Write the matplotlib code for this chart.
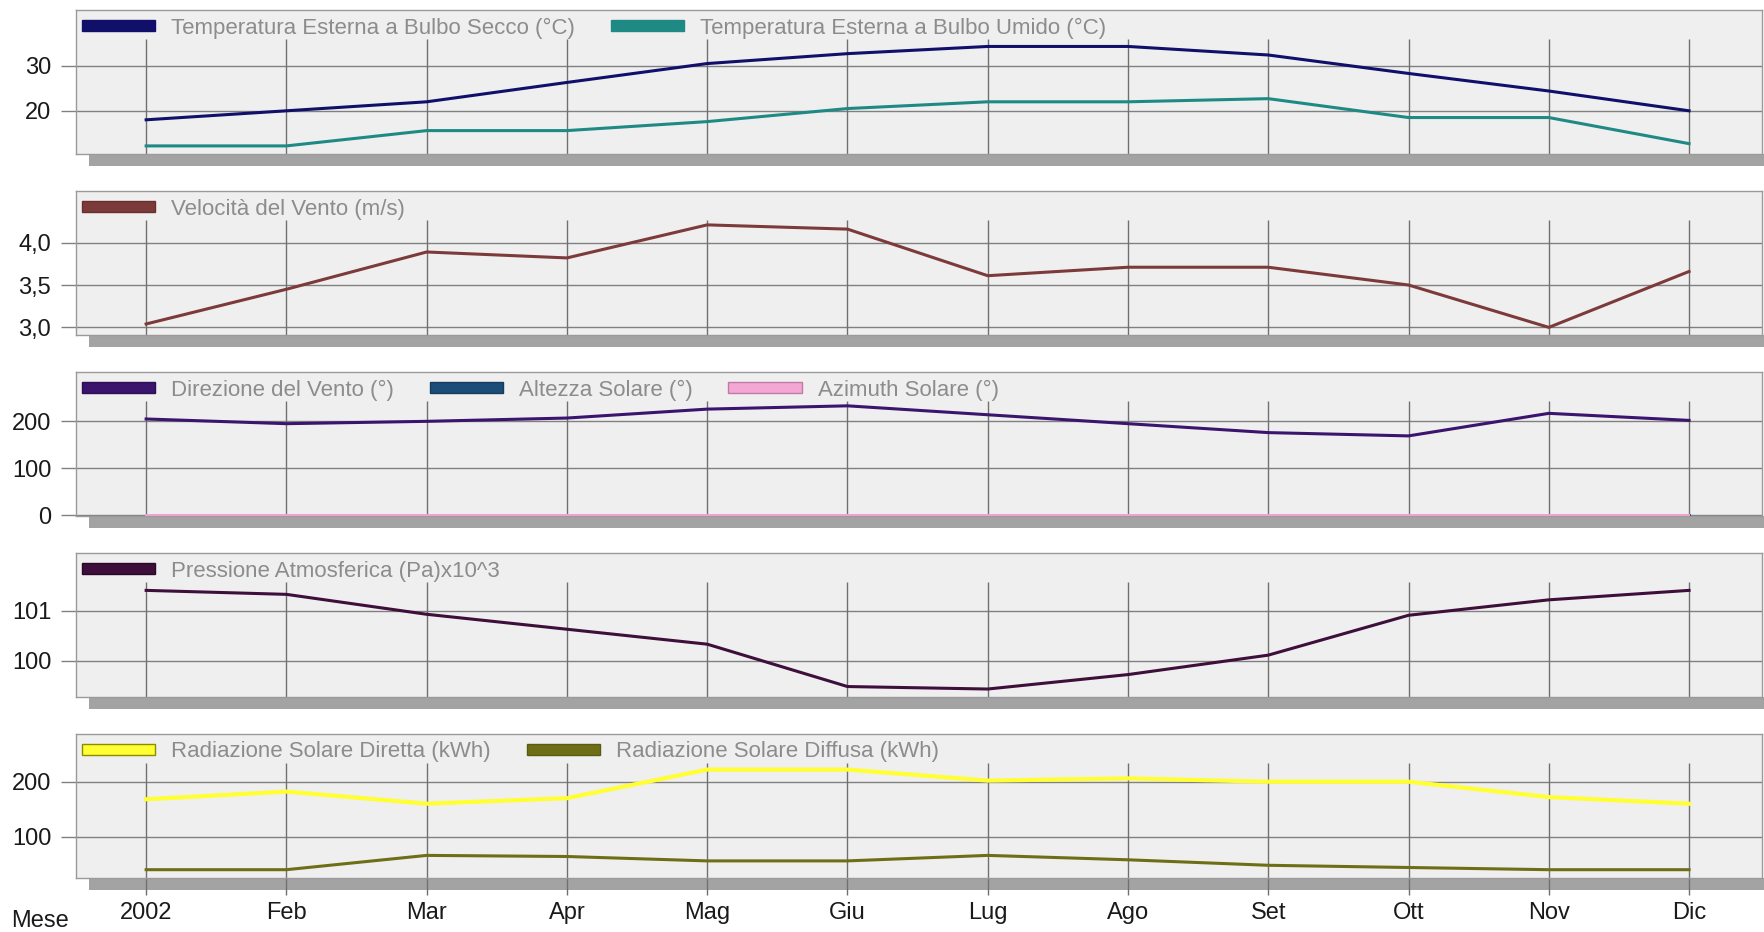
import matplotlib
matplotlib.use("Agg")
import matplotlib.pyplot as plt
from matplotlib.patches import Patch, Rectangle

plt.rcParams['font.family'] = ['Liberation Sans', 'DejaVu Sans']

# monthly climate values
months = ['2002', 'Feb', 'Mar', 'Apr', 'Mag', 'Giu', 'Lug', 'Ago', 'Set', 'Ott', 'Nov', 'Dic']
temp_dry = [18.0, 20.0, 22.0, 26.3, 30.5, 32.7, 34.3, 34.3, 32.4, 28.3, 24.4, 20.0]
temp_wet = [12.2, 12.2, 15.6, 15.6, 17.6, 20.5, 22.0, 22.0, 22.7, 18.5, 18.5, 12.7]
wind_speed = [3.04, 3.45, 3.89, 3.82, 4.21, 4.16, 3.61, 3.71, 3.71, 3.50, 3.00, 3.66]
wind_dir = [205, 195, 200, 207, 226, 233, 214, 195, 176, 169, 217, 202]
sun_alt = [0] * 12
sun_azi = [0] * 12
pressure = [101.41, 101.33, 100.93, 100.63, 100.33, 99.48, 99.43, 99.72, 100.11, 100.91, 101.22, 101.41]
rad_direct = [168, 182, 160, 170, 222, 222, 202, 206, 200, 200, 172, 160]
rad_diffuse = [40, 40, 66, 64, 56, 56, 66, 58, 48, 44, 40, 40]

# panel definitions: series (label, values, color, legend edge, lw), y ticks, tick labels, ylim
panels = [
    ([("Temperatura Esterna a Bulbo Secco (°C)", temp_dry, '#10106a', '#10106a', 2.2),
      ("Temperatura Esterna a Bulbo Umido (°C)", temp_wet, '#1f8a84', '#1f8a84', 2.2)],
     [20, 30], ['20', '30'], (10.4, 42.4)),
    ([("Velocità del Vento (m/s)", wind_speed, '#7d3a3a', '#6a2e2e', 2.2)],
     [3.0, 3.5, 4.0], ['3,0', '3,5', '4,0'], (2.91, 4.61)),
    ([("Direzione del Vento (°)", wind_dir, '#3b146e', '#2c0e55', 2.2),
      ("Altezza Solare (°)", sun_alt, '#1c4c78', '#163d60', 2.0),
      ("Azimuth Solare (°)", sun_azi, '#f4a6d4', '#c07aa4', 1.4)],
     [0, 100, 200], ['0', '100', '200'], (-1.5, 305)),
    ([("Pressione Atmosferica (Pa)x10^3", pressure, '#3d0f3a', '#2a0828', 2.2)],
     [100, 101], ['100', '101'], (99.27, 102.16)),
    ([("Radiazione Solare Diretta (kWh)", rad_direct, '#ffff33', '#8c8c00', 3.0),
      ("Radiazione Solare Diffusa (kWh)", rad_diffuse, '#6e6e16', '#5a5a10', 2.2)],
     [100, 200], ['100', '200'], (24.9, 286.7)),
]

W, H = 1764, 932
left_px, right_px = 76, 1762
panel_h = 144
tops = [10, 191, 372, 553, 734]
x = list(range(len(months)))

fig = plt.figure(figsize=(W / 100, H / 100), dpi=100)
fig.patch.set_facecolor('white')

for i, (series, yt, ytl, ylim) in enumerate(panels):
    ax = fig.add_axes([left_px / W, 1 - (tops[i] + panel_h) / H,
                       (right_px - left_px) / W, panel_h / H])
    ax.set_facecolor('#efefef')
    for s in ax.spines.values():
        s.set_color('#9a9a9a')
        s.set_linewidth(1.0)

    # drop shadow under the panel
    ax_w = right_px - left_px
    ax.add_patch(Rectangle((13 / ax_w, -12 / panel_h), 1.2, 12 / panel_h,
                           transform=ax.transAxes, facecolor='#a3a3a3',
                           edgecolor='none', clip_on=False, zorder=0.5))

    ax.set_xlim(-0.5, 11.52)
    ax.set_ylim(*ylim)

    # vertical month lines stop below the legend row
    ax.vlines(x, 0, 1 - 28.5 / panel_h, transform=ax.get_xaxis_transform(),
              color='#707070', lw=1.0, zorder=1)

    ax.set_yticks(yt)
    ax.set_yticklabels(ytl)
    ax.yaxis.grid(True, color='#808080', lw=1.0)
    ax.set_axisbelow(True)
    ax.tick_params(axis='y', length=10.8, width=1.0, color='#808080',
                   labelsize=17, labelcolor='#1a1a1a', pad=7)

    ax.set_xticks(x)
    if i == len(panels) - 1:
        ax.set_xticklabels(months)
        ax.tick_params(axis='x', length=12, width=1.0, color='#707070',
                       labelsize=17, labelcolor='#1a1a1a', pad=5)
    else:
        ax.set_xticklabels([])
        ax.tick_params(axis='x', length=0)

    handles = []
    for label, vals, col, edge, lw in series:
        ax.plot(x, vals, color=col, lw=lw, zorder=3, solid_joinstyle='round')
        handles.append(Patch(facecolor=col, edgecolor=edge, linewidth=1.0, label=label))

    ax.legend(handles=handles, loc='center left',
              bbox_to_anchor=(6 / ax_w, 1 - 18 / panel_h),
              ncol=len(handles), frameon=False, fontsize=16,
              handlelength=3.3, handleheight=0.37, handletextpad=0.72,
              columnspacing=1.6, borderpad=0, borderaxespad=0,
              labelcolor='#8c8c8c')

fig.text(11 / W, 1 - 921 / H, 'Mese', fontsize=17, color='#1a1a1a',
         ha='left', va='center')

fig.savefig('out.png', dpi=100, facecolor='white')
